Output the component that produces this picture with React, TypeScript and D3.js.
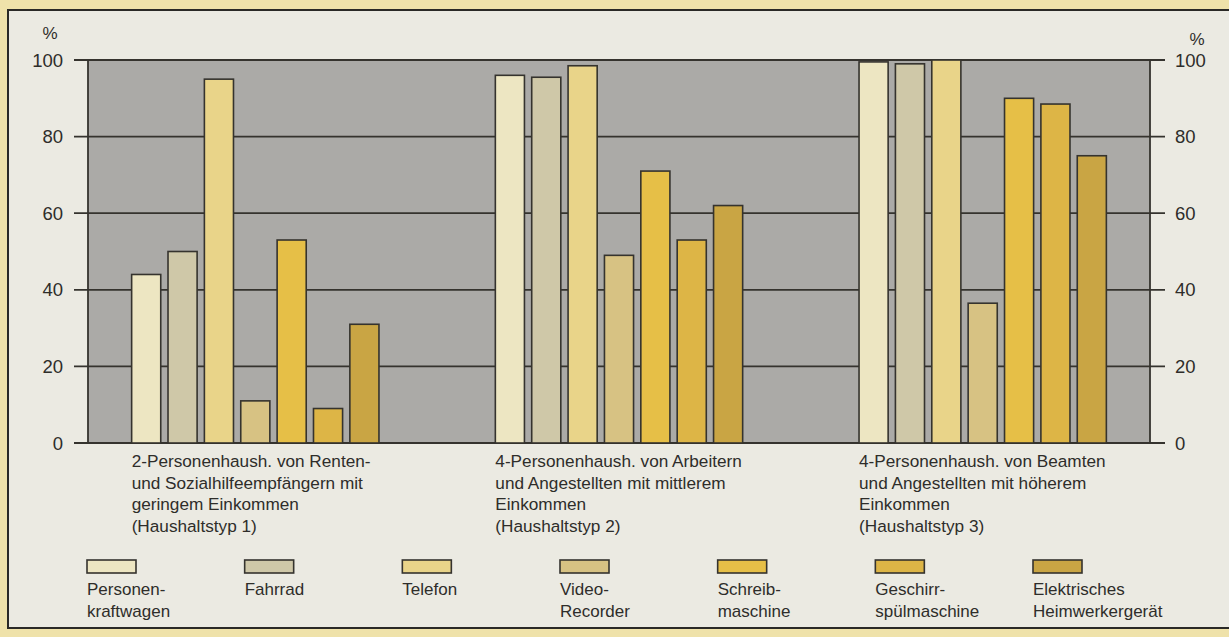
import React from "react";
import * as d3 from "d3";

const groups = ["Haushaltstyp 1", "Haushaltstyp 2", "Haushaltstyp 3"];
const groupLabelLines = [
  ["2-Personenhaush. von Renten-", "und Sozialhilfeempfängern mit", "geringem Einkommen", "(Haushaltstyp 1)"],
  ["4-Personenhaush. von Arbeitern", "und Angestellten mit mittlerem", "Einkommen", "(Haushaltstyp 2)"],
  ["4-Personenhaush. von Beamten", "und Angestellten mit höherem", "Einkommen", "(Haushaltstyp 3)"],
];
const series = [
  "Personenkraftwagen",
  "Fahrrad",
  "Telefon",
  "Video-Recorder",
  "Schreibmaschine",
  "Geschirrspülmaschine",
  "Elektrisches Heimwerkergerät",
];
const legendLines = [
  ["Personen-", "kraftwagen"],
  ["Fahrrad"],
  ["Telefon"],
  ["Video-", "Recorder"],
  ["Schreib-", "maschine"],
  ["Geschirr-", "spülmaschine"],
  ["Elektrisches", "Heimwerkergerät"],
];
const valuesTyp1 = [44, 50, 95, 11, 53, 9, 31];
const valuesTyp2 = [96, 95.5, 98.5, 49, 71, 53, 62];
const valuesTyp3 = [99.5, 99, 100, 36.5, 90, 88.5, 75];
const groupValues = [valuesTyp1, valuesTyp2, valuesTyp3];
const yTicks = [0, 20, 40, 60, 80, 100];
const seriesColors = ["#ede6c2", "#cfc8a8", "#e9d489", "#d7c283", "#e6bf47", "#ddb546", "#c9a544"];

const W = 1229;
const H = 637;
const FONT = "'Liberation Sans', Arial, Helvetica, sans-serif";
const TEXT = "#2e2d2a";
const LINE = "#35332e";

export default function App() {
  const plotLeft = 88;
  const plotRight = 1150;
  const plotTop = 60;
  const plotBottom = 443;

  const x0 = d3.scaleBand<string>().domain(groups).range([plotLeft, plotRight]).paddingInner(0.32).paddingOuter(0.12);
  const x1 = d3.scaleBand<string>().domain(series).range([0, x0.bandwidth()]).paddingInner(0.2).paddingOuter(0);
  const y = d3.scaleLinear().domain([0, 100]).range([plotBottom, plotTop]);
  const color = d3.scaleOrdinal<string, string>().domain(series).range(seriesColors);
  const legendX = d3.scalePoint<string>().domain(series).range([87, 1033]);

  return (
    <svg width={W} height={H} style={{ position: "absolute", left: 0, top: 0, display: "block" }} fontFamily={FONT}>
      <rect x={0} y={0} width={W} height={H} fill="#efe2aa" />
      <rect x={8} y={10} width={W + 10} height={618} fill="#ebeae2" stroke="#2a2926" strokeWidth={2} />

      {/* plot background */}
      <rect x={plotLeft} y={plotTop} width={plotRight - plotLeft} height={plotBottom - plotTop} fill="#abaaa7" />

      {/* grid lines with ticks */}
      {yTicks.map((t) => (
        <g key={t}>
          <line x1={74} x2={1165} y1={y(t)} y2={y(t)} stroke={LINE} strokeWidth={1.8} />
          <text x={63} y={y(t)} textAnchor="end" dominantBaseline="central" fontSize={18.5} fill={TEXT}>
            {t}
          </text>
          <text x={1175} y={y(t)} textAnchor="start" dominantBaseline="central" fontSize={18.5} fill={TEXT}>
            {t}
          </text>
        </g>
      ))}
      <line x1={plotLeft} x2={plotLeft} y1={plotTop} y2={plotBottom} stroke={LINE} strokeWidth={1.8} />
      <line x1={plotRight} x2={plotRight} y1={plotTop} y2={plotBottom} stroke={LINE} strokeWidth={1.8} />
      <text x={50} y={39} textAnchor="middle" fontSize={17} fill={TEXT}>%</text>
      <text x={1197} y={45} textAnchor="middle" fontSize={17} fill={TEXT}>%</text>

      {/* bars */}
      {groups.map((g, gi) => (
        <g key={g} transform={`translate(${x0(g)},0)`}>
          {series.map((s, si) => {
            const v = groupValues[gi][si];
            return (
              <rect
                key={s}
                x={x1(s)}
                y={y(v)}
                width={x1.bandwidth()}
                height={y(0) - y(v)}
                fill={color(s)}
                stroke={LINE}
                strokeWidth={1.6}
              />
            );
          })}
        </g>
      ))}

      {/* group labels */}
      {groups.map((g, gi) => (
        <text key={g} x={x0(g)} y={467} fontSize={17.2} fill={TEXT}>
          {groupLabelLines[gi].map((line, li) => (
            <tspan key={li} x={x0(g)} dy={li === 0 ? 0 : 21.5}>
              {line}
            </tspan>
          ))}
        </text>
      ))}

      {/* legend */}
      {series.map((s, si) => {
        const lx = legendX(s) as number;
        return (
          <g key={s}>
            <rect x={lx} y={560} width={49} height={13} fill={color(s)} stroke={LINE} strokeWidth={1.6} />
            <text x={lx} y={595} fontSize={17} fill={TEXT}>
              {legendLines[si].map((line, li) => (
                <tspan key={li} x={lx} dy={li === 0 ? 0 : 22}>
                  {line}
                </tspan>
              ))}
            </text>
          </g>
        );
      })}
    </svg>
  );
}
